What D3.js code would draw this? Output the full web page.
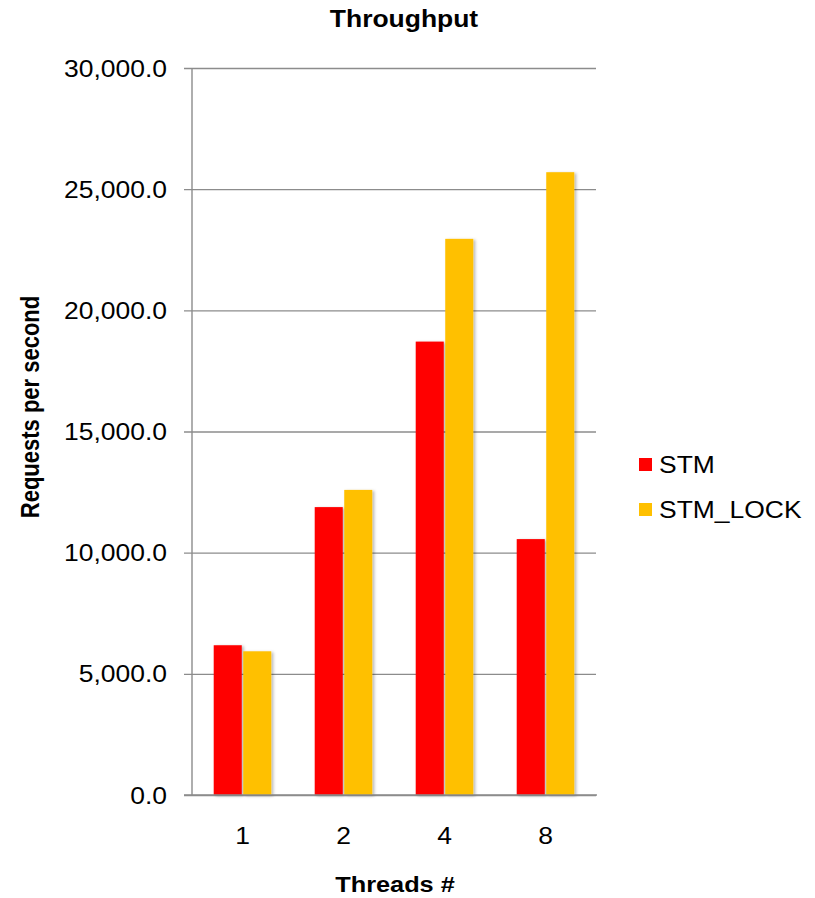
<!DOCTYPE html>
<html>
<head>
<meta charset="utf-8">
<script src="https://cdn.jsdelivr.net/npm/d3@7"></script>
<style>
  html, body { margin: 0; padding: 0; background: #fff; }
  svg { display: block; font-family: "Liberation Sans", Arial, sans-serif; }
</style>
</head>
<body>
<svg id="chart" width="815" height="898"></svg>
<script>
const categories = ["1", "2", "4", "8"];
const seriesNames = ["STM", "STM_LOCK"];
const stmValues = [6180, 11880, 18710, 10560];
const stmLockValues = [5930, 12590, 22950, 25700];
const yTicks = [0, 5000, 10000, 15000, 20000, 25000, 30000];
const colors = ["#FF0000", "#FFC000"];

const svg = d3.select("#chart");
const plot = { left: 192, right: 596, top: 68, bottom: 795 };
const stretchX = 1.15;

function stretch(sel) {
  sel.each(function () {
    const len = this.getComputedTextLength();
    d3.select(this).attr("textLength", len * stretchX).attr("lengthAdjust", "spacingAndGlyphs");
  });
}

const defs = svg.append("defs");
const f = defs.append("filter").attr("id", "shadow").attr("x", "-20%").attr("y", "-5%").attr("width", "150%").attr("height", "115%");
f.append("feDropShadow").attr("dx", 2).attr("dy", 1).attr("stdDeviation", 1.6).attr("flood-color", "#000").attr("flood-opacity", 0.28);

const x0 = d3.scaleBand().domain(categories).range([plot.left, plot.right]).paddingInner(0.43).paddingOuter(0.215);
const x1 = d3.scaleBand().domain(seriesNames).range([0, x0.bandwidth()]).paddingInner(0.05);
const y = d3.scaleLinear().domain([0, 30000]).range([plot.bottom, plot.top]);

// gridlines + y axis
const yAxis = d3.axisLeft(y).tickValues(yTicks).tickFormat(d3.format(",.1f"))
  .tickSize(-(plot.right - plot.left)).tickPadding(25);
const gy = svg.append("g").attr("transform", `translate(${plot.left},0)`).call(yAxis);
gy.select(".domain").remove();
gy.selectAll(".tick line").attr("x1", -8).attr("stroke", "#8c8c8c").attr("stroke-width", 1.4);
gy.selectAll(".tick text").attr("font-size", 23).attr("fill", "#000").attr("dy", "0.35em").call(stretch);
svg.append("line").attr("x1", plot.left).attr("x2", plot.left).attr("y1", plot.top).attr("y2", plot.bottom)
  .attr("stroke", "#8c8c8c").attr("stroke-width", 1.4);

// bars
const data = categories.map((c, i) => ({ cat: c, vals: [
  { key: seriesNames[0], v: stmValues[i], color: colors[0] },
  { key: seriesNames[1], v: stmLockValues[i], color: colors[1] }
]}));
const groups = svg.append("g").selectAll("g").data(data).join("g")
  .attr("transform", d => `translate(${x0(d.cat)},0)`);
groups.selectAll("rect").data(d => d.vals).join("rect")
  .attr("x", d => x1(d.key))
  .attr("width", x1.bandwidth())
  .attr("y", d => y(d.v))
  .attr("height", d => y(0) - y(d.v))
  .attr("fill", d => d.color)
  .attr("filter", "url(#shadow)");

// x axis
const xAxis = d3.axisBottom(x0).tickSize(0).tickPadding(0);
const gx = svg.append("g").attr("transform", `translate(0,${plot.bottom})`).call(xAxis);
gx.select(".domain").remove();
gx.selectAll(".tick text").attr("font-size", 23).attr("fill", "#000").attr("y", 49).attr("dy", 0).call(stretch);
svg.append("line").attr("x1", plot.left - 8).attr("x2", plot.right + 1).attr("y1", plot.bottom).attr("y2", plot.bottom)
  .attr("stroke", "#8c8c8c").attr("stroke-width", 1.4);

// title
svg.append("text").attr("x", 404).attr("y", 27).attr("text-anchor", "middle")
  .attr("font-size", 23).attr("font-weight", "bold").text("Throughput").call(stretch);

// axis titles
svg.append("text").attr("x", 395).attr("y", 892).attr("text-anchor", "middle")
  .attr("font-size", 22).attr("font-weight", "bold").text("Threads #").call(stretch);
svg.append("text").attr("transform", `translate(39,407) scale(${stretchX},1) rotate(-90)`).attr("text-anchor", "middle")
  .attr("font-size", 22).attr("font-weight", "bold").text("Requests per second");

// legend
const legend = svg.append("g").selectAll("g").data(seriesNames).join("g")
  .attr("transform", (d, i) => `translate(639,${458 + i * 45})`);
legend.append("rect").attr("width", 13).attr("height", 13).attr("fill", (d, i) => colors[i]);
legend.append("text").attr("x", 20).attr("y", 15).attr("font-size", 23).text(d => d).call(stretch);
</script>
</body>
</html>
